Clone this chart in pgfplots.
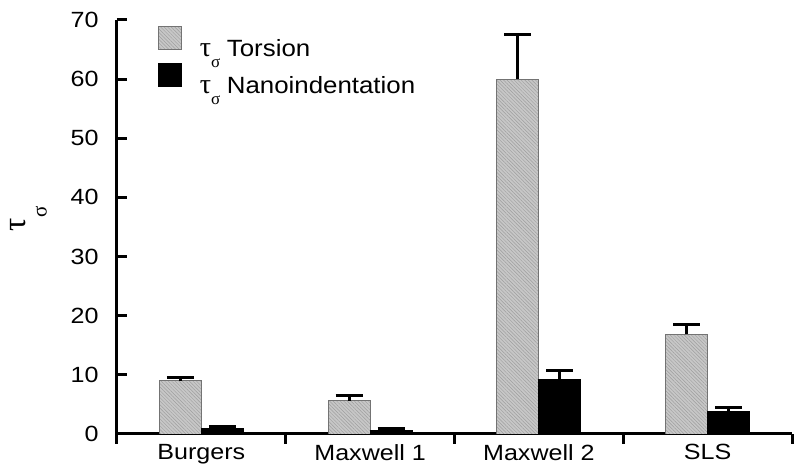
\documentclass[border=0pt]{standalone}
\usepackage{fontspec}
\setmainfont{Liberation Sans}
\newfontfamily\grk{Liberation Serif}
\usepackage{pgfplots}
\pgfplotsset{compat=1.18}
\usetikzlibrary{patterns.meta}

\pgfplotstableread{
x y err
0 9.0 0.6
1 5.6 0.95
2 60.0 7.6
3 16.9 1.6
}\torsion
\pgfplotstableread{
x y err
0 0.95 0.3
1 0.6 0.3
2 9.2 1.6
3 3.8 0.6
}\nano

\newcommand{\tausig}{{\grk\fontsize{28}{28}\selectfont τ}\raisebox{-11pt}{\grk\fontsize{17}{17}\selectfont σ}}
\newcommand{\sx}[1]{\scalebox{1.14}[1]{#1}}
\newcommand{\lx}[1]{\scalebox{1.1}[1]{#1}}

\begin{document}
\begin{tikzpicture}
\begin{axis}[
  name=ax,
  scale only axis, width=675pt, height=414pt,
  xmin=-0.5, xmax=3.5, ymin=0, ymax=70,
  axis lines=left, axis line style={line width=3pt,-},
  ytick={0,10,...,70},
  yticklabel={\sx{\pgfmathprintnumber{\tick}}},
  xtick={0,1,2,3}, xticklabels={\sx{Burgers},\sx{Maxwell 1},\sx{Maxwell 2},\sx{SLS}},
  every major x tick/.append style={draw=none},
  minor xtick={-0.5,0.5,1.5,2.5,3.5},
  tick align=inside, major tick length=10pt, minor tick length=10pt,
  tick style={line width=3pt, black},
  /pgf/number format/assume math mode=true,
  tick label style={font=\fontsize{22}{26}\selectfont},
  xticklabel style={yshift=3pt},
  yticklabel style={xshift=-15pt},
  ylabel={{\grk\fontsize{33}{33}\selectfont τ}\raisebox{-21pt}{\grk\fontsize{21}{21}\selectfont σ}},
  ylabel style={at={(axis description cs:-0.131,0.52)}, anchor=center},
  ybar=0pt, bar width=42pt,
  legend style={at={(axis description cs:0.0607,0.9855)}, anchor=north west,
    draw=none, fill=none, inner sep=0pt, row sep=3pt,
    font=\fontsize{23.5}{28}\selectfont,
    /tikz/every odd column/.append style={column sep=16pt}},
  legend cell align=left,
  legend image code/.code={\draw[#1] (0pt,-1pt) rectangle (23pt,22pt);},
]
\addplot[fill=black!22, draw=black!55, line width=0.8pt,
  postaction={pattern={Lines[angle=-45,distance=2.5pt,line width=0.45pt]}, pattern color=black!38},
  error bars/.cd, y dir=plus, y explicit,
  error bar style={line width=3pt, black},
  error mark options={rotate=90, line width=3pt, mark size=13.5pt, black}]
  table[x=x, y=y, y error=err]{\torsion};
\addlegendentry{\tausig\ \lx{Torsion}}
\addplot[fill=black, draw=black, line width=0.8pt,
  error bars/.cd, y dir=plus, y explicit,
  error bar style={line width=3pt, black},
  error mark options={rotate=90, line width=3pt, mark size=13.5pt, black}]
  table[x=x, y=y, y error=err]{\nano};
\addlegendentry{\tausig\ \lx{Nanoindentation}}
\end{axis}
\path ([shift={(-117pt,-37pt)}]ax.south west) rectangle ([shift={(8pt,20pt)}]ax.north east);
\end{tikzpicture}
\end{document}
